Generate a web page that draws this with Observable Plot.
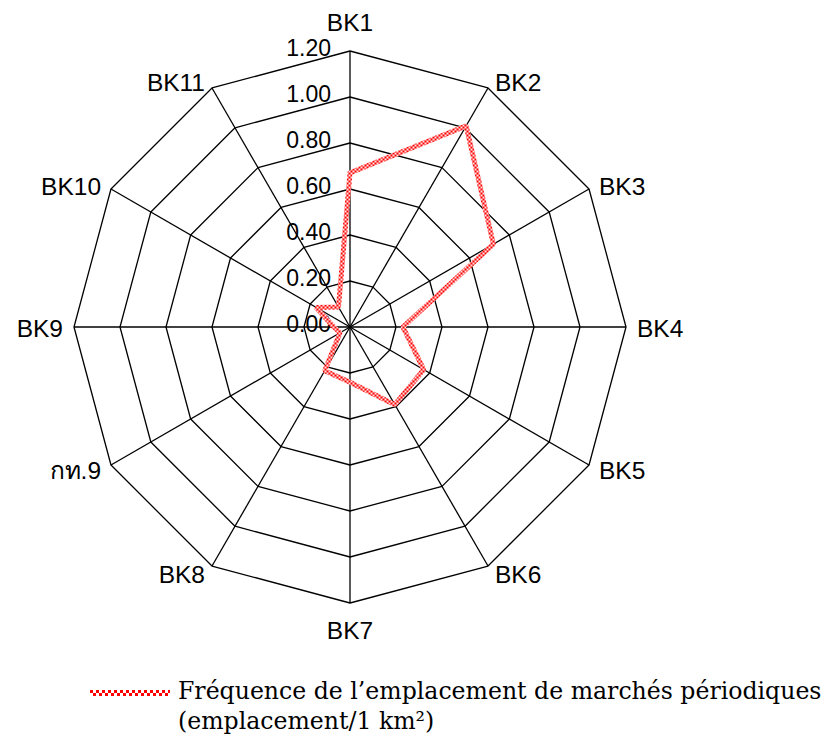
<!DOCTYPE html>
<html><head><meta charset="utf-8">
<script src="https://cdn.jsdelivr.net/npm/d3@7"></script>
<script src="https://cdn.jsdelivr.net/npm/@observablehq/plot@0.6"></script>
<style>
body{margin:0;background:#fff;}
#chart svg{display:block}
#legend{position:relative;height:74px;width:827px}
#legend .txt{position:absolute;left:178px;top:16px;font-family:"DejaVu Serif",serif;font-size:23.6px;line-height:30px;color:#000;white-space:nowrap}
#legend svg{position:absolute;left:90px;top:30px}
</style>
</head><body>
<div id="chart"></div>
<div id="legend"></div>
<script>
const categories = ["BK1","BK2","BK3","BK4","BK5","BK6","BK7","BK8","กท.9","BK9","BK10","BK11"];
const values = [0.67,1.01,0.72,0.23,0.37,0.39,0.24,0.22,0.05,0.07,0.17,0.10];
const tickValues = [0,0.2,0.4,0.6,0.8,1.0,1.2];
const tickLabels = ["0.00","0.20","0.40","0.60","0.80","1.00","1.20"];
const seriesName = "Fréquence de l’emplacement de marchés périodiques";
const unitLabel = "(emplacement/1 km²)";

const W = 827, H = 660, cx = 349.5, cy = 326.5, unit = 230;
const n = categories.length;
const maxR = d3.max(tickValues);
const ang = i => 2 * Math.PI * i / n;
const P = (i, r) => ({x: r * Math.sin(ang(i)), y: r * Math.cos(ang(i))});

const rings = tickValues.filter(t => t > 0).flatMap(t => d3.range(n + 1).map(i => ({t, ...P(i % n, t)})));
const spokes = categories.map((c, i) => ({c, ...P(i, maxR)}));
const pts = values.map((v, i) => ({c: categories[i], v, ...P(i, v)}));
const closed = [...pts, pts[0]];

const labels = categories.map((c, i) => {
  const s = Math.sin(ang(i)), co = Math.cos(ang(i));
  const anchor = Math.abs(s) < 0.1 ? "middle" : (s > 0 ? "start" : "end");
  const dxp = anchor === "middle" ? 0 : Math.sign(s) * (3 + 8 * Math.abs(s));
  const dyp = anchor === "middle" ? -co * 28 : (2 - 8 * co);
  return {c, anchor, x: maxR * s + dxp / unit, y: maxR * co - dyp / unit};
});

const font = "'Liberation Sans', Arial, sans-serif";
const SERIES_STROKE = "#fe0000";
const chart = Plot.plot({
  width: W, height: H, margin: 0,
  style: {fontFamily: font, background: "#fff"},
  x: {domain: [-cx / unit, (W - cx) / unit], range: [0, W], axis: null},
  y: {domain: [(cy - H) / unit, cy / unit], range: [H, 0], axis: null},
  marks: [
    Plot.line(rings, {x: "x", y: "y", z: "t", stroke: "black", strokeWidth: 1.3}),
    Plot.link(spokes, {x1: d => 0, y1: d => 0, x2: "x", y2: "y", stroke: "black", strokeWidth: 1.3}),
    Plot.text(tickValues, {x: d => 0, y: d => d, text: (d, i) => tickLabels[i], textAnchor: "end", dx: -19, dy: -2, fontSize: 23, fill: "black", fontFamily: font}),
    Plot.line(closed, {x: "x", y: "y", stroke: SERIES_STROKE, strokeWidth: 5, strokeLinejoin: "miter"}),
    ...["start", "end", "middle"].map(a => Plot.text(labels.filter(l => l.anchor === a), {x: "x", y: "y", text: "c", textAnchor: a, fontSize: 24.5, fill: "black", fontFamily: font}))
  ]
});

const ns = "http://www.w3.org/2000/svg";
function el(tag, attrs) {
  const e = document.createElementNS(ns, tag);
  for (const k in attrs) e.setAttribute(k, attrs[k]);
  return e;
}
const defs = el("defs", {});
const pat = el("pattern", {id: "checker", patternUnits: "userSpaceOnUse", width: 4, height: 4});
pat.appendChild(el("rect", {width: 4, height: 4, fill: "#ffe6e6"}));
pat.appendChild(el("rect", {x: 0, y: 0, width: 2, height: 2, fill: "#f00"}));
pat.appendChild(el("rect", {x: 2, y: 2, width: 2, height: 2, fill: "#f00"}));
defs.appendChild(pat);
chart.insertBefore(defs, chart.firstChild);
chart.querySelectorAll(`[stroke="${SERIES_STROKE}"]`).forEach(e => e.setAttribute("stroke", "url(#checker)"));
document.getElementById("chart").appendChild(chart);

const legend = document.getElementById("legend");
const ls = el("svg", {width: 80, height: 6});
const ld = el("defs", {});
const lp = el("pattern", {id: "checkerL", patternUnits: "userSpaceOnUse", width: 6, height: 6});
lp.appendChild(el("rect", {width: 6, height: 6, fill: "#fff"}));
lp.appendChild(el("rect", {x: 0, y: 0, width: 3, height: 3, fill: "#f00"}));
lp.appendChild(el("rect", {x: 3, y: 3, width: 3, height: 3, fill: "#f00"}));
ld.appendChild(lp);
ls.appendChild(ld);
ls.appendChild(el("rect", {width: 80, height: 6, fill: "url(#checkerL)"}));
legend.appendChild(ls);
const txt = document.createElement("div");
txt.className = "txt";
txt.appendChild(document.createTextNode(seriesName));
txt.appendChild(document.createElement("br"));
txt.appendChild(document.createTextNode(unitLabel));
legend.appendChild(txt);
</script>
</body></html>
